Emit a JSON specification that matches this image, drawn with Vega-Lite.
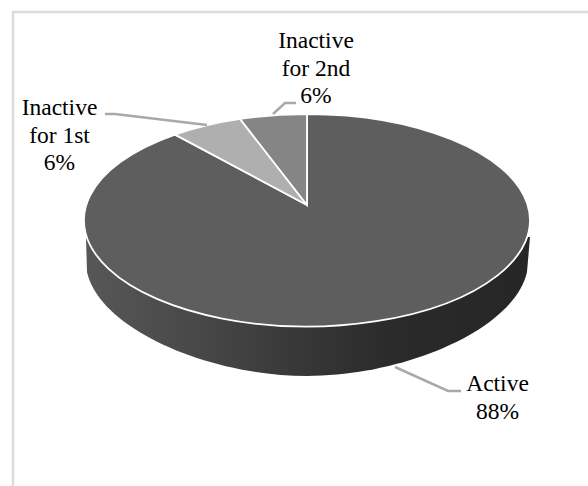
{
  "$schema": "https://vega.github.io/schema/vega-lite/v6.json",
  "width": 588,
  "height": 486,
  "padding": 0,
  "autosize": "none",
  "background": "white",
  "view": {"stroke": null},
  "datasets": {
    "slices": [
      {"category": "Active", "value": 88, "label": "Active\n88%"},
      {"category": "Inactive for 1st", "value": 6, "label": "Inactive\nfor 1st\n6%"},
      {"category": "Inactive for 2nd", "value": 6, "label": "Inactive\nfor 2nd\n6%"}
    ]
  },
  "data": {"name": "slices"},
  "resolve": {"scale": {"shape": "independent"}},
  "layer": [
    {
      "description": "Chart frame, left and top edges",
      "transform": [{"filter": "datum.category === 'Active'"}],
      "mark": {
        "type": "point",
        "filled": false,
        "size": 4,
        "stroke": "#dcdcdc",
        "strokeWidth": 2.5,
        "opacity": 1,
        "shape": "M-281,243 L-281,-231 L294,-231"
      }
    },
    {
      "description": "Side wall of the tilted pie",
      "transform": [{"filter": "datum.category === 'Active'"}],
      "mark": {
        "type": "point",
        "filled": true,
        "size": 4,
        "opacity": 1,
        "strokeWidth": 0,
        "shape": "M-208,-6 L-207,29 C-194,87 -84,133 13,133 C110,133 220,87 233,29 L236,-6 Z",
        "fill": {
          "gradient": "linear",
          "x1": 0,
          "y1": 0,
          "x2": 1,
          "y2": 0,
          "stops": [
            {"offset": 0, "color": "#575757"},
            {"offset": 0.25, "color": "#484848"},
            {"offset": 0.5, "color": "#363636"},
            {"offset": 0.7, "color": "#2a2a2a"},
            {"offset": 1, "color": "#262626"}
          ]
        }
      }
    },
    {
      "description": "Top surface, one elliptical sector per category",
      "mark": {
        "type": "point",
        "filled": true,
        "size": 4,
        "opacity": 1,
        "stroke": "white",
        "strokeWidth": 1.8
      },
      "encoding": {
        "shape": {
          "field": "category",
          "type": "nominal",
          "legend": null,
          "scale": {
            "domain": ["Active", "Inactive for 1st", "Inactive for 2nd"],
            "range": [
              "M13,-38 L13,-129 A223,106.25 0 1 1 -119,-108.4 Z",
              "M13,-38 L-119,-108.4 A223,106.25 0 0 1 -54,-124.1 Z",
              "M13,-38 L-54,-124.1 A223,106.25 0 0 1 13,-129 Z"
            ]
          }
        },
        "fill": {
          "field": "category",
          "type": "nominal",
          "legend": null,
          "scale": {
            "domain": ["Active", "Inactive for 1st", "Inactive for 2nd"],
            "range": ["#5e5e5e", "#afafaf", "#858585"]
          }
        }
      }
    },
    {
      "description": "Leader lines from the labels to the sectors",
      "mark": {
        "type": "point",
        "filled": false,
        "size": 4,
        "opacity": 1,
        "stroke": "#a9a9a9",
        "strokeWidth": 2.5
      },
      "encoding": {
        "shape": {
          "field": "category",
          "type": "nominal",
          "legend": null,
          "scale": {
            "domain": ["Active", "Inactive for 1st", "Inactive for 2nd"],
            "range": [
              "M101,124 L154,148 L167,148",
              "M-189,-129 L-179,-129 L-87,-118",
              "M2,-140 L-9,-140 L-21,-129"
            ]
          }
        }
      }
    },
    {
      "description": "Label for the Active sector",
      "transform": [{"filter": "datum.category === 'Active'"}],
      "mark": {
        "type": "text",
        "font": "Liberation Serif",
        "fontSize": 23.5,
        "lineHeight": 28,
        "lineBreak": "\n",
        "align": "center",
        "baseline": "alphabetic",
        "color": "#000000",
        "dx": 203.5,
        "dy": 148
      },
      "encoding": {"text": {"field": "label"}}
    },
    {
      "description": "Label for the first inactive sector",
      "transform": [{"filter": "datum.category === 'Inactive for 1st'"}],
      "mark": {
        "type": "text",
        "font": "Liberation Serif",
        "fontSize": 23.5,
        "lineHeight": 27.5,
        "lineBreak": "\n",
        "align": "center",
        "baseline": "alphabetic",
        "color": "#000000",
        "dx": -234.5,
        "dy": -128
      },
      "encoding": {"text": {"field": "label"}}
    },
    {
      "description": "Label for the second inactive sector",
      "transform": [{"filter": "datum.category === 'Inactive for 2nd'"}],
      "mark": {
        "type": "text",
        "font": "Liberation Serif",
        "fontSize": 23.5,
        "lineHeight": 27.5,
        "lineBreak": "\n",
        "align": "center",
        "baseline": "alphabetic",
        "color": "#000000",
        "dx": 22,
        "dy": -195
      },
      "encoding": {"text": {"field": "label"}}
    }
  ]
}
